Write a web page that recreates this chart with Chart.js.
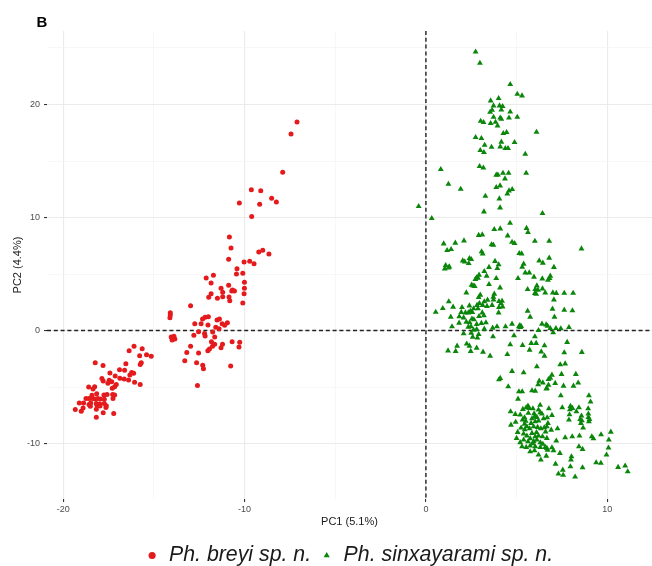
<!DOCTYPE html>
<html>
<head>
<meta charset="utf-8">
<title>PCA - Phyllodactylus</title>
<script src="https://cdn.jsdelivr.net/npm/chart.js@4/dist/chart.umd.min.js"></script>
<style>
    html, body { margin: 0; padding: 0; background: #ffffff; }
    canvas { display: block; }
</style>
</head>
<body>
<canvas id="pcaChart" width="652" height="566"></canvas>
<script>
const seriesLabels = ['Ph. breyi sp. n.', 'Ph. sinxayarami sp. n.']
const axisTitles = ['PC1 (5.1%)', 'PC2 (4.4%)']
const panelTag = 'B'
const xTickLabels = [-20, -10, 0, 10]
const yTickLabels = [-10, 0, 10, 20]

// PC1 / PC2 scores
const breyiPoints = [
    [-7.11, 18.44], [-7.44, 17.38], [-7.90, 14.0], [-9.63, 12.46], [-9.11, 12.37],
    [-8.51, 11.7], [-8.25, 11.37], [-10.29, 11.28], [-9.17, 11.17], [-9.61, 10.1],
    [-10.84, 8.28], [-10.75, 7.3], [-9.22, 6.95], [-9.0, 7.1], [-8.66, 6.77],
    [-10.88, 6.3], [-10.03, 6.07], [-9.72, 6.13], [-9.48, 5.92], [-10.42, 5.47],
    [-10.45, 5.0], [-10.1, 5.07], [-11.72, 4.89], [-12.12, 4.65], [-11.85, 4.21],
    [-10.88, 4.0], [-10.01, 4.27], [-11.3, 3.74], [-10.01, 3.74], [-10.67, 3.59],
    [-11.21, 3.39], [-10.71, 3.5], [-10.56, 3.5], [-10.03, 3.26], [-11.98, 2.94],
    [-11.5, 2.85], [-11.21, 3.0], [-10.86, 2.97], [-10.82, 2.64], [-11.85, 3.26],
    [-10.1, 2.44], [-12.98, 2.2], [-14.1, 1.58], [-14.1, 1.38], [-14.12, 1.14],
    [-12.18, 1.18], [-12.0, 1.23], [-12.32, 1.03], [-11.52, 0.94], [-11.39, 1.03],
    [-12.75, 0.61], [-12.4, 0.61], [-12.02, 0.5], [-11.24, 0.61], [-10.95, 0.7],
    [-11.1, 0.47], [-11.59, 0.29], [-11.41, 0.17], [-12.54, -0.1], [-12.21, -0.27],
    [-12.18, -0.48], [-11.76, -0.12], [-12.8, -0.42], [-14.05, -0.58], [-13.96, -0.65],
    [-13.85, -0.74], [-14.0, -0.83], [-13.9, -0.5], [-11.65, -0.57], [-11.83, -1.0],
    [-11.65, -1.21], [-11.77, -1.39], [-11.22, -1.21], [-11.3, -1.51], [-10.69, -1.0],
    [-10.27, -1.03], [-10.31, -1.45], [-12.98, -1.39], [-12.03, -1.78], [-11.94, -1.63],
    [-12.54, -1.98], [-13.19, -1.95], [-13.3, -2.66], [-12.65, -2.84], [-12.31, -3.07],
    [-12.27, -3.37], [-10.77, -3.13], [-12.6, -4.87], [-16.1, -1.39], [-16.37, -1.78],
    [-15.65, -1.6], [-15.41, -2.13], [-15.15, -2.27], [-15.79, -2.22], [-15.7, -2.84],
    [-15.76, -3.01], [-16.55, -2.93], [-18.24, -2.84], [-17.81, -3.1], [-16.9, -3.46],
    [-16.62, -3.51], [-17.43, -3.75], [-16.23, -3.72], [-16.12, -3.78], [-16.33, -3.93],
    [-17.14, -4.01], [-16.88, -4.22], [-16.64, -4.28], [-16.4, -4.37], [-17.87, -4.25],
    [-17.8, -4.46], [-17.47, -4.39], [-17.33, -4.52], [-17.54, -4.66], [-16.07, -4.57],
    [-15.76, -4.78], [-17.08, -4.78], [-17.17, -4.96], [-18.6, -4.99], [-18.27, -4.96],
    [-18.36, -5.16], [-17.3, -5.1], [-17.59, -5.66], [-17.76, -5.69], [-17.28, -5.66],
    [-17.17, -5.69], [-18.16, -5.6], [-18.42, -5.72], [-18.75, -6.0], [-18.58, -6.0],
    [-18.4, -6.0], [-18.25, -6.05], [-18.1, -6.0], [-17.96, -6.05], [-17.26, -6.02],
    [-17.74, -6.08], [-19.12, -6.4], [-18.88, -6.4], [-18.49, -6.4], [-18.18, -6.45],
    [-17.99, -6.5], [-17.74, -6.45], [-17.65, -6.8], [-19.34, -6.99], [-19.01, -7.14],
    [-18.91, -6.84], [-18.58, -6.55], [-18.51, -6.7], [-18.18, -6.96], [-18.14, -6.61],
    [-17.98, -6.67], [-18.18, -7.67], [-17.8, -7.26], [-17.63, -6.64], [-17.22, -7.33]
]

const sinxayaramiPoints = [
    // upper arm
    [2.74, 24.66], [2.98, 23.66], [4.65, 21.78], [5.04, 20.92], [5.3, 20.77],
    [4.01, 20.54], [3.57, 20.33], [3.73, 19.89], [4.06, 19.89], [4.23, 19.83],
    [3.65, 19.5], [3.54, 19.33], [4.16, 19.53], [4.65, 19.35], [3.73, 18.89],
    [4.1, 18.82], [4.16, 18.71], [4.58, 18.82], [5.04, 18.89], [3.02, 18.53],
    [3.18, 18.42], [3.57, 18.33], [3.84, 18.44], [3.95, 18.12], [6.1, 17.56],
    [4.27, 17.44], [4.45, 17.53], [2.74, 17.09], [3.06, 17.0], [4.16, 16.68],
    [4.89, 16.65], [3.24, 16.41], [3.62, 16.23], [4.1, 16.26], [4.38, 16.12],
    [4.53, 16.12], [3.0, 15.94], [3.2, 15.76], [5.48, 15.61], [0.82, 14.26],
    [2.96, 14.53], [3.17, 14.4], [5.53, 13.93], [3.88, 13.76], [3.97, 13.78],
    [4.25, 13.93], [4.56, 13.93], [4.36, 13.43], [1.24, 12.96], [1.92, 12.52],
    [4.09, 12.81], [3.88, 12.67], [4.58, 12.37], [4.76, 12.49], [4.49, 12.1],
    [3.28, 11.9], [4.05, 11.66],
    // middle
    [4.09, 10.87], [-0.4, 10.99], [3.2, 10.51], [6.43, 10.37], [0.32, 9.93],
    [4.64, 9.51], [3.77, 8.96], [4.1, 9.01], [5.55, 9.05], [5.63, 8.69],
    [2.91, 8.43], [3.11, 8.48], [4.51, 8.39], [0.98, 7.68], [1.62, 7.75],
    [2.1, 7.95], [4.75, 7.83], [4.89, 7.72], [6.01, 7.92], [6.8, 7.92],
    [3.62, 7.6], [3.72, 7.57], [1.17, 7.1], [1.39, 7.19], [8.58, 7.24],
    [3.07, 6.98], [3.13, 6.8], [5.15, 6.83], [5.28, 6.8], [2.4, 6.39],
    [2.03, 6.18], [2.5, 6.3], [2.14, 6.09], [2.36, 5.95], [3.81, 6.13],
    [6.25, 6.18], [6.45, 5.98], [6.8, 6.42], [1.09, 5.77], [1.29, 5.65],
    [1.04, 5.47], [1.24, 5.56], [5.39, 5.89], [5.31, 5.62], [4.01, 5.83],
    [3.94, 5.51], [3.48, 5.6], [7.06, 5.6], [3.22, 5.24], [5.48, 5.12],
    [5.7, 5.12], [2.93, 4.92], [2.8, 4.68], [2.73, 4.54], [2.87, 4.65],
    [3.35, 4.83], [3.88, 4.62], [5.08, 4.62], [5.96, 4.74], [6.42, 4.59],
    [6.73, 4.47], [6.86, 4.83], [6.82, 4.62], [3.48, 4.09], [2.52, 4.03],
    [2.6, 3.97], [2.69, 3.92], [6.12, 3.97], [6.03, 3.65], [6.18, 3.59],
    [4.09, 3.79], [5.61, 3.65], [6.43, 3.7], [6.58, 3.35], [6.01, 3.3],
    [6.08, 3.24], [7.0, 3.35], [7.19, 3.3], [7.63, 3.32], [8.12, 3.32],
    [2.23, 3.35], [3.0, 3.15], [2.91, 2.94], [3.77, 3.24], [3.72, 2.97],
    [3.73, 2.73], [3.4, 2.71], [3.22, 2.56], [4.03, 2.59], [4.2, 2.62],
    [4.14, 2.38], [4.23, 2.11], [4.03, 2.06], [7.06, 2.73], [1.26, 2.56],
    [2.95, 2.41], [2.82, 2.24], [3.13, 2.24], [2.63, 1.94], [2.87, 1.94],
    [3.65, 2.24], [3.37, 2.15], [0.93, 1.97], [1.5, 2.09], [1.99, 2.06],
    [2.4, 2.2], [2.45, 1.71], [1.95, 1.62], [0.54, 1.64], [2.18, 1.58],
    [2.34, 1.58], [2.56, 1.62], [3.11, 1.58], [3.2, 1.32], [2.93, 1.26],
    [4.01, 1.58], [5.61, 1.73], [5.75, 1.2], [6.98, 1.91], [7.09, 1.2],
    [7.63, 1.82], [8.08, 1.76], [1.37, 1.2], [1.84, 1.23], [2.08, 1.14],
    [2.54, 1.03], [2.65, 0.97], [2.23, 0.76], [2.41, 0.7], [1.83, 0.67],
    [2.8, 0.56], [3.06, 0.65], [3.31, 0.7], [1.44, 0.35], [2.34, 0.32],
    [2.49, 0.35], [3.22, 0.14], [2.8, 0.11], [2.63, 0.05], [3.68, 0.23],
    [3.92, 0.35], [4.39, 0.35], [4.75, 0.58], [5.13, 0.35], [5.2, 0.29],
    [5.25, 0.38], [5.18, 0.45], [6.4, 0.58], [6.63, 0.52], [6.71, 0.41],
    [6.21, 0.02], [6.01, -0.54], [6.86, 0.2], [7.17, 0.2], [7.44, 0.17],
    [7.89, 0.29], [7.02, -0.18], [2.08, -0.27], [2.5, -0.21], [2.91, -0.33],
    [2.58, -0.57], [2.84, -0.65], [3.7, -0.54], [4.86, -0.45],
    // lower arm
    [1.22, -1.78], [1.64, -1.83], [1.72, -1.36], [2.25, -1.18], [2.4, -1.36],
    [2.47, -1.83], [2.8, -1.54], [3.15, -1.89], [3.54, -2.25], [4.65, -1.24],
    [4.49, -2.1], [5.33, -1.3], [5.72, -1.72], [5.81, -1.12], [6.08, -1.12],
    [6.36, -1.87], [6.54, -1.33], [6.54, -2.25], [6.12, -3.19], [4.75, -3.6],
    [5.39, -3.72], [4.1, -4.22], [4.03, -4.34], [4.54, -4.96], [6.25, -4.46],
    [6.45, -4.61], [6.19, -4.78], [6.76, -4.31], [6.67, -5.1], [5.13, -5.4],
    [5.31, -5.4], [5.85, -5.31], [6.03, -5.34], [5.08, -6.05], [5.63, -6.67],
    [5.53, -6.82], [5.7, -6.87], [4.67, -7.17], [4.93, -7.4], [5.2, -7.46],
    [5.35, -6.96], [5.44, -7.7], [6.21, -7.02], [6.31, -7.26], [6.4, -7.37],
    [5.97, -7.35], [6.12, -7.67], [5.85, -7.79], [6.03, -8.05], [6.21, -7.99],
    [6.49, -7.79], [6.69, -7.7], [6.78, -6.9], [6.73, -8.2], [4.69, -8.35],
    [5.33, -7.9], [5.44, -8.28], [5.57, -8.5], [5.72, -8.67], [5.94, -8.5],
    [6.16, -8.55], [6.34, -8.67], [6.53, -8.59], [5.06, -8.99], [5.39, -9.14],
    [5.57, -9.32], [5.85, -9.08], [6.03, -9.38], [6.21, -9.32], [6.43, -9.38],
    [5.0, -9.52], [5.39, -9.67], [5.63, -9.82], [5.94, -9.79], [6.12, -9.67],
    [6.31, -9.91], [6.67, -9.52], [5.3, -10.26], [5.53, -10.32], [5.75, -10.2],
    [6.03, -10.26], [6.31, -10.32], [6.67, -10.41], [5.75, -10.71], [5.99, -10.62],
    [6.21, -11.0], [6.34, -11.44], [6.64, -11.09], [5.5, -8.0], [5.8, -8.2],
    [6.0, -7.6], [5.65, -7.3], [5.9, -6.9], [6.1, -9.0], [5.75, -9.55],
    [5.2, -9.9], [5.9, -10.0], [6.45, -10.05], [5.45, -8.75], [6.6, -8.95],
    [5.25, -8.6], [4.95, -8.1], [6.3, -6.6],
    // lower right
    [7.79, -1.03], [7.63, -1.95], [8.6, -1.92], [7.41, -3.01], [7.68, -2.93],
    [6.95, -3.93], [6.86, -4.19], [7.48, -3.86], [8.27, -3.86], [7.13, -4.66],
    [6.76, -4.81], [6.64, -5.16], [7.59, -4.9], [8.14, -4.9], [8.4, -4.63],
    [7.44, -5.75], [8.99, -5.75], [9.08, -6.31], [7.52, -6.82], [7.97, -6.69],
    [7.94, -6.99], [8.08, -6.87], [8.44, -6.82], [8.3, -7.17], [8.95, -6.9],
    [8.96, -7.37], [8.96, -7.67], [8.99, -8.05], [9.02, -7.84], [8.58, -7.55],
    [8.51, -7.84], [8.6, -7.97], [8.55, -8.2], [7.89, -7.9], [7.92, -7.44],
    [6.95, -7.49], [6.67, -8.5], [6.91, -8.79], [7.26, -8.67], [8.67, -8.61],
    [8.07, -9.38], [8.47, -9.32], [7.68, -9.47], [9.15, -9.38], [9.24, -9.56],
    [9.66, -9.2], [10.2, -8.97], [10.09, -9.67], [7.19, -9.76], [6.58, -10.32],
    [6.71, -10.56], [6.95, -10.35], [7.04, -10.62], [8.44, -10.26], [8.64, -10.5],
    [10.07, -10.38], [7.39, -10.85], [9.96, -11.0], [8.03, -11.15], [8.0, -11.44],
    [7.15, -11.8], [7.97, -12.03], [8.64, -12.12], [9.39, -11.68], [9.65, -11.73],
    [10.6, -12.09], [10.99, -11.97], [11.13, -12.47], [7.31, -12.68], [7.57, -12.79],
    [7.55, -12.33], [8.23, -12.94]
]

const fontFamily = "'Liberation Sans', Arial, Helvetica, sans-serif"

function toXY(points) {
    return points.map(([x, y]) => ({ x, y }))
}

function isLabelled(value, labels) {
    return labels.includes(value)
}

// dashed reference lines at PC1 = 0 and PC2 = 0, plus the panel tag
const zeroLines = {
    id: 'zeroLines',
    beforeDatasetsDraw(chart) {
        const { ctx, chartArea, scales } = chart
        const x0 = scales.x.getPixelForValue(0)
        const y0 = scales.y.getPixelForValue(0)
        ctx.save()
        ctx.strokeStyle = '#222222'
        ctx.lineWidth = 1.4
        ctx.setLineDash([4, 2.8])
        ctx.beginPath()
        ctx.moveTo(x0, chartArea.top)
        ctx.lineTo(x0, chartArea.bottom)
        ctx.moveTo(chartArea.left, y0)
        ctx.lineTo(chartArea.right, y0)
        ctx.stroke()
        ctx.restore()
    },
    afterDraw(chart) {
        const { ctx } = chart
        ctx.save()
        ctx.fillStyle = '#000000'
        ctx.font = `bold 15px ${fontFamily}`
        ctx.textBaseline = 'middle'
        ctx.fillText(panelTag, 36.5, 23)
        ctx.restore()
    }
}

function axisOptions(min, max, labels, title, isX) {
    return {
        type: 'linear',
        min,
        max,
        border: { display: false },
        grid: {
            color: c => isLabelled(c.tick.value, labels) ? '#EBEBEB' : '#F4F4F4',
            lineWidth: c => isLabelled(c.tick.value, labels) ? 1.1 : 0.7,
            tickColor: c => isLabelled(c.tick.value, labels) ? '#333333' : 'rgba(0,0,0,0)',
            tickLength: 3,
            tickWidth: 1.1
        },
        ticks: {
            stepSize: 5,
            includeBounds: false,
            autoSkip: false,
            maxRotation: 0,
            padding: isX ? 2 : 4,
            color: '#4D4D4D',
            font: { family: fontFamily, size: 9 },
            callback: value => isLabelled(value, labels) ? String(value) : ''
        },
        title: {
            display: true,
            text: title,
            color: '#1A1A1A',
            font: { family: fontFamily, size: 11 },
            padding: isX ? { top: 0, bottom: 7.2 } : { top: 11.4, bottom: 0 }
        },
        afterFit: scale => {
            if (isX) scale.height = 36.5
            else scale.width = 47
        }
    }
}

window.pcaChart = new Chart(document.getElementById('pcaChart'), {
    type: 'scatter',
    data: {
        datasets: [{
            label: seriesLabels[0],
            data: toXY(breyiPoints),
            pointStyle: 'circle',
            pointRadius: 2.5,
            backgroundColor: '#E41A1C',
            borderColor: '#E41A1C',
            borderWidth: 0
        }, {
            label: seriesLabels[1],
            data: toXY(sinxayaramiPoints),
            pointStyle: 'triangle',
            pointRadius: 3.4,
            backgroundColor: '#0A860A',
            borderColor: '#0A860A',
            borderWidth: 0
        }]
    },
    options: {
        responsive: false,
        animation: false,
        devicePixelRatio: 1,
        layout: {
            autoPadding: false,
            padding: { top: 31, left: 0, right: 0, bottom: 0 }
        },
        scales: {
            x: axisOptions(-20.9, 12.47, xTickLabels, axisTitles[0], true),
            y: axisOptions(-14.9, 26.5, yTickLabels, axisTitles[1], false)
        },
        plugins: {
            tooltip: { enabled: false },
            legend: {
                position: 'bottom',
                fullSize: false,
                maxHeight: 30.5,
                labels: {
                    usePointStyle: true,
                    boxHeight: 5,
                    boxWidth: 12.5,
                    padding: 9.4,
                    color: '#1A1A1A',
                    font: { family: fontFamily, size: 21.3, style: 'italic' }
                }
            }
        }
    },
    plugins: [zeroLines]
})
</script>
</body>
</html>
